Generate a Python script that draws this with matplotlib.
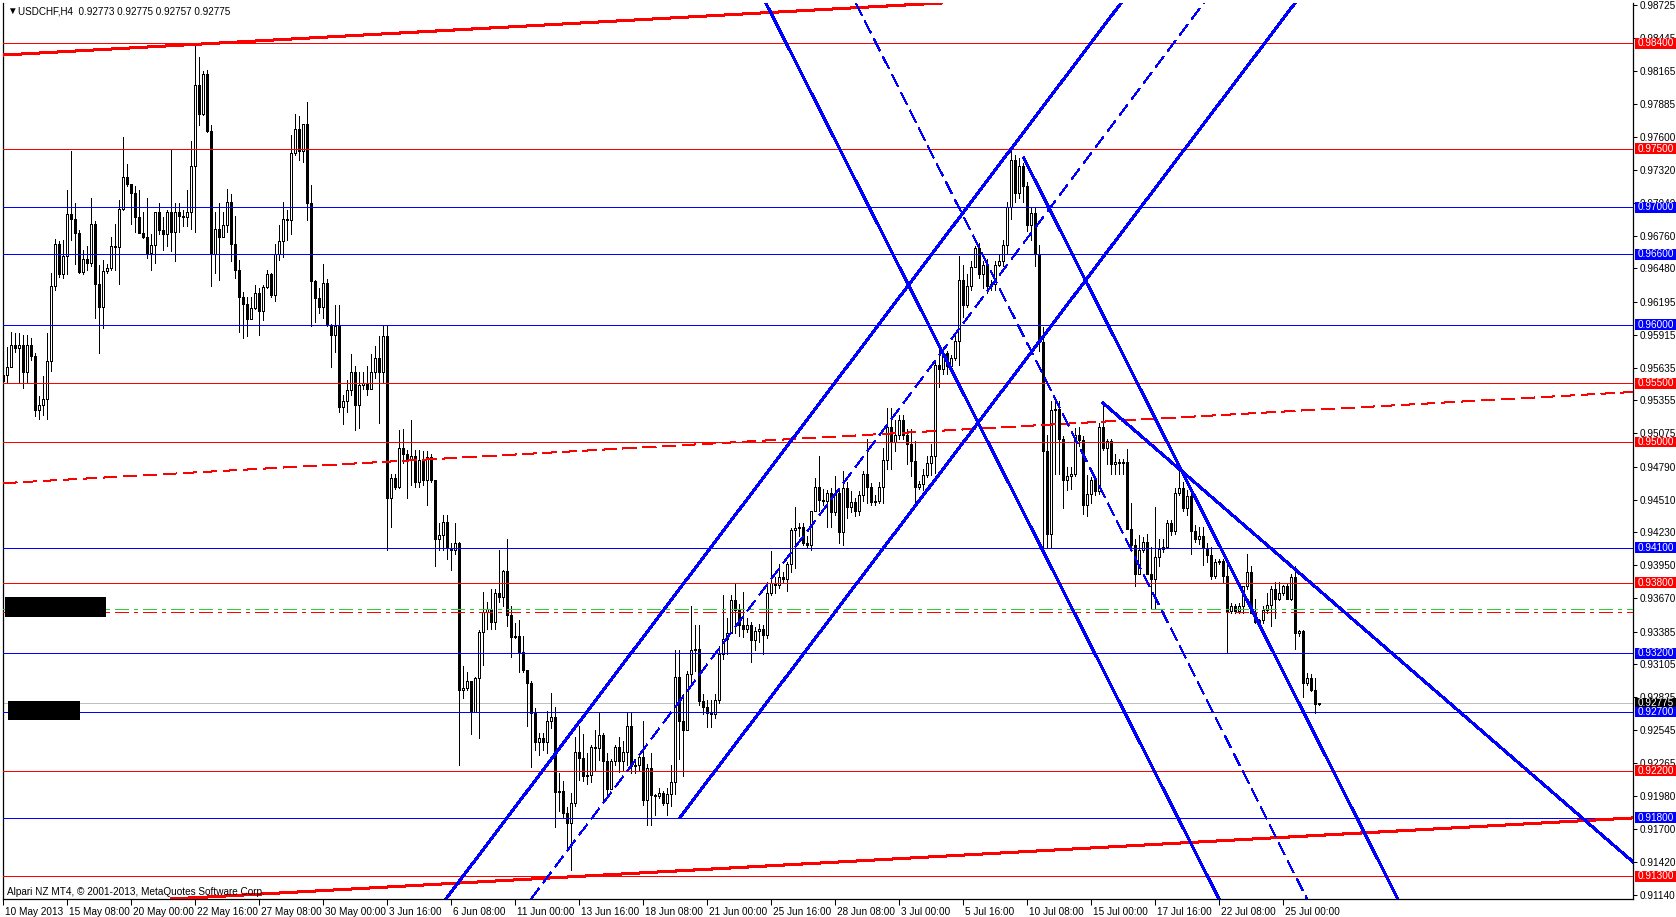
import numpy as np
import matplotlib.pyplot as plt
import matplotlib.transforms as mtransforms
from matplotlib.patches import Rectangle

plt.rcParams['font.family'] = ['Liberation Sans', 'DejaVu Sans']

# USDCHF H4 candles (open = previous close)
first_open = 0.9552
closes = [
    0.9557, 0.9564, 0.9583, 0.9580, 0.9583, 0.9560, 0.9583, 0.9573, 0.9527, 0.9532,
    0.9537, 0.9569, 0.9633, 0.9669, 0.9643, 0.9659, 0.9694, 0.9690, 0.9678, 0.9645,
    0.9656, 0.9653, 0.9686, 0.9635, 0.9615, 0.9646, 0.9648, 0.9667, 0.9666, 0.9699,
    0.9726, 0.9720, 0.9712, 0.9692, 0.9678, 0.9675, 0.9661, 0.9668, 0.9696, 0.9681,
    0.9677, 0.9696, 0.9679, 0.9696, 0.9693, 0.9692, 0.9696, 0.9735, 0.9804, 0.9780,
    0.9814, 0.9765, 0.9660, 0.9682, 0.9675, 0.9685, 0.9705, 0.9669, 0.9647, 0.9624,
    0.9618, 0.9605, 0.9614, 0.9627, 0.9612, 0.9632, 0.9643, 0.9625, 0.9660, 0.9671,
    0.9690, 0.9689, 0.9746, 0.9767, 0.9748, 0.9771, 0.9704, 0.9637, 0.9623, 0.9615,
    0.9636, 0.9600, 0.9591, 0.9599, 0.9530, 0.9535, 0.9544, 0.9560, 0.9532, 0.9549,
    0.9550, 0.9545, 0.9560, 0.9572, 0.9560, 0.9590, 0.9452, 0.9469, 0.9462, 0.9495,
    0.9490, 0.9485, 0.9488, 0.9466, 0.9485, 0.9468, 0.9487, 0.9468, 0.9417, 0.9421,
    0.9432, 0.9410, 0.9408, 0.9414, 0.9289, 0.9290, 0.9296, 0.9270, 0.9299, 0.9338,
    0.9355, 0.9358, 0.9347, 0.9371, 0.9368, 0.9390, 0.9353, 0.9334, 0.9335, 0.9321,
    0.9306, 0.9295, 0.9269, 0.9244, 0.9248, 0.9244, 0.9262, 0.9266, 0.9202, 0.9203,
    0.9184, 0.9175, 0.9192, 0.9236, 0.9231, 0.9215, 0.9216, 0.9240, 0.9239, 0.9250,
    0.9228, 0.9204, 0.9228, 0.9240, 0.9228, 0.9236, 0.9258, 0.9224, 0.9225, 0.9232,
    0.9195, 0.9222, 0.9199, 0.9198, 0.9201, 0.9192, 0.9200, 0.9210, 0.9300, 0.9262,
    0.9255, 0.9302, 0.9323, 0.9324, 0.9279, 0.9274, 0.9269, 0.9268, 0.9280, 0.9319,
    0.9332, 0.9337, 0.9365, 0.9357, 0.9344, 0.9341, 0.9344, 0.9331, 0.9339, 0.9341,
    0.9336, 0.9371, 0.9380, 0.9378, 0.9385, 0.9383, 0.9396, 0.9425, 0.9427, 0.9428,
    0.9414, 0.9412, 0.9441, 0.9462, 0.9451, 0.9450, 0.9457, 0.9440, 0.9457, 0.9423,
    0.9461, 0.9445, 0.9449, 0.9441, 0.9455, 0.9473, 0.9462, 0.9449, 0.9450, 0.9462,
    0.9485, 0.9513, 0.9500, 0.9506, 0.9519, 0.9506, 0.9498, 0.9484, 0.9462, 0.9464,
    0.9472, 0.9482, 0.9488, 0.9566, 0.9562, 0.9576, 0.9565, 0.9572, 0.9586, 0.9638,
    0.9617, 0.9633, 0.9649, 0.9665, 0.9643, 0.9651, 0.9633, 0.9635, 0.9651, 0.9654,
    0.9668, 0.9700, 0.9740, 0.9712, 0.9735, 0.9718, 0.9685, 0.9695, 0.9660, 0.9585,
    0.9492, 0.9422, 0.9527, 0.9528, 0.9503, 0.9468, 0.9471, 0.9473, 0.9506, 0.9502,
    0.9446, 0.9456, 0.9468, 0.9458, 0.9513, 0.9495, 0.9501, 0.9481, 0.9483, 0.9482,
    0.9483, 0.9426, 0.9412, 0.9388, 0.9408, 0.9415, 0.9388, 0.9383, 0.9402, 0.9409,
    0.9411, 0.9431, 0.9424, 0.9457, 0.9461, 0.9444, 0.9454, 0.9424, 0.9417, 0.9420,
    0.9410, 0.9404, 0.9386, 0.9398, 0.9399, 0.9386, 0.9356, 0.9360, 0.9356, 0.9360,
    0.9377, 0.9389, 0.9354, 0.9347, 0.9348, 0.9357, 0.9361, 0.9375, 0.9366, 0.9371,
    0.9377, 0.9366, 0.9385, 0.9337, 0.9339, 0.9295, 0.9299, 0.9289, 0.9277, 0.92775,
]
highs = [
    0.9627, 0.9581, 0.9594, 0.9593, 0.9593, 0.9591, 0.9591, 0.9589, 0.9576, 0.9539,
    0.9556, 0.9593, 0.9644, 0.9673, 0.9671, 0.9672, 0.9715, 0.9748, 0.9704, 0.9681,
    0.9664, 0.9667, 0.9708, 0.9688, 0.9651, 0.9655, 0.9652, 0.9675, 0.9686, 0.9706,
    0.9760, 0.9737, 0.9718, 0.9718, 0.9715, 0.9696, 0.9708, 0.9677, 0.9696, 0.9704,
    0.9692, 0.9698, 0.9749, 0.9704, 0.9704, 0.9698, 0.9715, 0.9757, 0.9838, 0.9828,
    0.9816, 0.9817, 0.9770, 0.9696, 0.9704, 0.9696, 0.9716, 0.9711, 0.9693, 0.9655,
    0.9628, 0.9624, 0.9624, 0.9634, 0.9631, 0.9634, 0.9647, 0.9644, 0.9669, 0.9685,
    0.9705, 0.9698, 0.9762, 0.9780, 0.9778, 0.9771, 0.9790, 0.9719, 0.9638, 0.9631,
    0.9652, 0.9639, 0.9601, 0.9617, 0.9617, 0.9540, 0.9553, 0.9575, 0.9565, 0.9560,
    0.9560, 0.9565, 0.9575, 0.9582, 0.9590, 0.9600, 0.9600, 0.9473, 0.9473, 0.9510,
    0.9511, 0.9493, 0.9519, 0.9493, 0.9493, 0.9492, 0.9492, 0.9490, 0.9468, 0.9431,
    0.9438, 0.9438, 0.9414, 0.9431, 0.9415, 0.9309, 0.9304, 0.9296, 0.9300, 0.9340,
    0.9372, 0.9364, 0.9375, 0.9375, 0.9408, 0.9391, 0.9417, 0.9360, 0.9346, 0.9348,
    0.9335, 0.9306, 0.9296, 0.9273, 0.9252, 0.9252, 0.9271, 0.9286, 0.9274, 0.9218,
    0.9211, 0.9189, 0.9201, 0.9249, 0.9258, 0.9251, 0.9235, 0.9242, 0.9255, 0.9269,
    0.9252, 0.9235, 0.9230, 0.9242, 0.9249, 0.9245, 0.9269, 0.9269, 0.9230, 0.9235,
    0.9262, 0.9226, 0.9235, 0.9200, 0.9205, 0.9203, 0.9205, 0.9225, 0.9323, 0.9323,
    0.9285, 0.9305, 0.9360, 0.9344, 0.9344, 0.9285, 0.9280, 0.9280, 0.9285, 0.9326,
    0.9370, 0.9350, 0.9370, 0.9380, 0.9362, 0.9372, 0.9350, 0.9347, 0.9342, 0.9345,
    0.9344, 0.9381, 0.9407, 0.9385, 0.9396, 0.9389, 0.9398, 0.9427, 0.9445, 0.9431,
    0.9431, 0.9420, 0.9441, 0.9469, 0.9488, 0.9460, 0.9459, 0.9461, 0.9471, 0.9461,
    0.9475, 0.9466, 0.9458, 0.9452, 0.9458, 0.9475, 0.9503, 0.9465, 0.9455, 0.9466,
    0.9495, 0.9529, 0.9529, 0.9519, 0.9523, 0.9523, 0.9511, 0.9511, 0.9501, 0.9467,
    0.9477, 0.9488, 0.9498, 0.9570, 0.9583, 0.9581, 0.9578, 0.9574, 0.9592, 0.9659,
    0.9651, 0.9643, 0.9654, 0.9667, 0.9670, 0.9654, 0.9656, 0.9638, 0.9654, 0.9660,
    0.9672, 0.9705, 0.9749, 0.9745, 0.9742, 0.9738, 0.9722, 0.9700, 0.9700, 0.9668,
    0.9598, 0.9506, 0.9535, 0.9534, 0.9535, 0.9505, 0.9479, 0.9479, 0.9512, 0.9513,
    0.9505, 0.9472, 0.9470, 0.9471, 0.9516, 0.9533, 0.9503, 0.9503, 0.9490, 0.9486,
    0.9486, 0.9494, 0.9448, 0.9417, 0.9421, 0.9419, 0.9422, 0.9411, 0.9445, 0.9417,
    0.9417, 0.9434, 0.9434, 0.9461, 0.9477, 0.9466, 0.9459, 0.9458, 0.9429, 0.9428,
    0.9428, 0.9414, 0.9411, 0.9400, 0.9400, 0.9400, 0.9400, 0.9363, 0.9362, 0.9363,
    0.9377, 0.9405, 0.9394, 0.9366, 0.9349, 0.9360, 0.9371, 0.9377, 0.9381, 0.9381,
    0.9378, 0.9380, 0.9388, 0.9394, 0.9340, 0.9340, 0.9303, 0.9302, 0.9299, 0.92775,
]
lows = [
    0.9542, 0.9550, 0.9574, 0.9577, 0.9550, 0.9546, 0.9550, 0.9570, 0.9522, 0.9520,
    0.9523, 0.9520, 0.9561, 0.9630, 0.9641, 0.9640, 0.9643, 0.9672, 0.9652, 0.9644,
    0.9643, 0.9647, 0.9650, 0.9606, 0.9576, 0.9597, 0.9644, 0.9647, 0.9647, 0.9635,
    0.9698, 0.9718, 0.9686, 0.9679, 0.9678, 0.9674, 0.9657, 0.9647, 0.9653, 0.9677,
    0.9664, 0.9667, 0.9663, 0.9654, 0.9679, 0.9684, 0.9684, 0.9682, 0.9679, 0.9770,
    0.9779, 0.9764, 0.9633, 0.9644, 0.9638, 0.9675, 0.9679, 0.9654, 0.9640, 0.9594,
    0.9589, 0.9590, 0.9607, 0.9613, 0.9591, 0.9604, 0.9631, 0.9624, 0.9620, 0.9655,
    0.9658, 0.9672, 0.9677, 0.9745, 0.9740, 0.9739, 0.9689, 0.9599, 0.9602, 0.9610,
    0.9606, 0.9599, 0.9564, 0.9577, 0.9526, 0.9515, 0.9526, 0.9540, 0.9510, 0.9512,
    0.9545, 0.9540, 0.9548, 0.9555, 0.9516, 0.9550, 0.9408, 0.9428, 0.9460, 0.9461,
    0.9482, 0.9452, 0.9463, 0.9462, 0.9462, 0.9463, 0.9446, 0.9466, 0.9394, 0.9408,
    0.9408, 0.9400, 0.9391, 0.9405, 0.9225, 0.9282, 0.9289, 0.9251, 0.9270, 0.9248,
    0.9310, 0.9341, 0.9341, 0.9341, 0.9364, 0.9360, 0.9343, 0.9317, 0.9333, 0.9304,
    0.9304, 0.9258, 0.9223, 0.9238, 0.9233, 0.9238, 0.9235, 0.9256, 0.9172, 0.9186,
    0.9180, 0.9155, 0.9135, 0.9190, 0.9212, 0.9211, 0.9209, 0.9210, 0.9220, 0.9229,
    0.9195, 0.9198, 0.9205, 0.9225, 0.9219, 0.9220, 0.9225, 0.9218, 0.9218, 0.9220,
    0.9191, 0.9174, 0.9174, 0.9182, 0.9197, 0.9191, 0.9182, 0.9190, 0.9200, 0.9230,
    0.9215, 0.9262, 0.9295, 0.9305, 0.9276, 0.9268, 0.9257, 0.9257, 0.9265, 0.9278,
    0.9315, 0.9319, 0.9349, 0.9337, 0.9335, 0.9334, 0.9338, 0.9313, 0.9323, 0.9330,
    0.9319, 0.9333, 0.9370, 0.9371, 0.9376, 0.9381, 0.9373, 0.9389, 0.9393, 0.9420,
    0.9412, 0.9411, 0.9408, 0.9441, 0.9441, 0.9446, 0.9428, 0.9428, 0.9438, 0.9414,
    0.9412, 0.9435, 0.9440, 0.9437, 0.9438, 0.9450, 0.9448, 0.9446, 0.9446, 0.9448,
    0.9448, 0.9477, 0.9477, 0.9492, 0.9503, 0.9503, 0.9481, 0.9471, 0.9448, 0.9460,
    0.9459, 0.9470, 0.9472, 0.9474, 0.9547, 0.9558, 0.9558, 0.9566, 0.9570, 0.9566,
    0.9607, 0.9615, 0.9630, 0.9649, 0.9640, 0.9631, 0.9627, 0.9630, 0.9630, 0.9650,
    0.9650, 0.9660, 0.9690, 0.9705, 0.9708, 0.9705, 0.9680, 0.9672, 0.9650, 0.9578,
    0.9405, 0.9411, 0.9411, 0.9473, 0.9473, 0.9444, 0.9459, 0.9460, 0.9471, 0.9497,
    0.9439, 0.9437, 0.9448, 0.9455, 0.9456, 0.9493, 0.9481, 0.9473, 0.9473, 0.9473,
    0.9473, 0.9426, 0.9410, 0.9377, 0.9388, 0.9406, 0.9388, 0.9358, 0.9358, 0.9394,
    0.9406, 0.9410, 0.9421, 0.9422, 0.9455, 0.9441, 0.9438, 0.9405, 0.9415, 0.9413,
    0.9395, 0.9398, 0.9383, 0.9384, 0.9396, 0.9380, 0.9320, 0.9354, 0.9354, 0.9354,
    0.9354, 0.9375, 0.9354, 0.9346, 0.9344, 0.9346, 0.9354, 0.9343, 0.9350, 0.9365,
    0.9370, 0.9366, 0.9365, 0.9324, 0.9335, 0.9283, 0.9293, 0.9288, 0.9269, 0.92757,
]

date_labels = ['10 May 2013', '15 May 08:00', '20 May 00:00', '22 May 16:00', '27 May 08:00',
               '30 May 00:00', '3 Jun 16:00', '6 Jun 08:00', '11 Jun 00:00', '13 Jun 16:00',
               '18 Jun 08:00', '21 Jun 00:00', '25 Jun 16:00', '28 Jun 08:00', '3 Jul 00:00',
               '5 Jul 16:00', '10 Jul 08:00', '15 Jul 00:00', '17 Jul 16:00', '22 Jul 08:00',
               '25 Jul 00:00']
date_bars = [16 * i for i in range(len(date_labels))]

price_ticks = [0.98725, 0.98445, 0.98165, 0.97885, 0.97600, 0.97320, 0.97040, 0.96760,
               0.96480, 0.96195, 0.95915, 0.95635, 0.95355, 0.95075, 0.94790, 0.94510,
               0.94230, 0.93950, 0.93670, 0.93385, 0.93105, 0.92825, 0.92545, 0.92265,
               0.91980, 0.91700, 0.91420, 0.91140]

red_levels = [0.9840, 0.9750, 0.9550, 0.9500, 0.9380, 0.9220, 0.9130]
blue_levels = [0.9700, 0.9660, 0.9600, 0.9410, 0.9320, 0.9270, 0.9180]
bid = 0.92775
green_dashdot = 0.93578
red_dashdot = 0.93552

# trend lines as (bar0, price0, bar1, price1)
red_trends = [(0, 0.98299, 234.4, 0.98742), (41.9, 0.91106, 407.4, 0.91797)]
red_dashed_trend = (0, 0.94650, 407.4, 0.95427)
blue_trends = [(110.6, 0.91106, 279.4, 0.98742),
               (169.1, 0.91800, 322.9, 0.98742),
               (190.6, 0.98742, 303.9, 0.91106),
               (255.1, 0.97420, 348.6, 0.91106),
               (274.9, 0.95333, 407.4, 0.91422)]
blue_dashed_trends = [(131.9, 0.91106, 300.1, 0.98742),
                      (213.1, 0.98742, 325.9, 0.91106)]

RED = '#ff0000'
BLUE = '#0000ff'
THIN = 0.68
THICK = 1.45

W, H = 1676, 917
fig = plt.figure(figsize=(W / 100, H / 100), dpi=100)
ax = fig.add_axes([3 / W, 18 / H, 1630 / W, 896 / H])
ax.set_xlim(-0.125, 407.4)
ax.set_ylim(0.91106, 0.98742)

# candles
c = np.array(closes)
o = np.array([first_open] + closes[:-1])
hi = np.maximum(np.array(highs), np.maximum(o, c))
lo = np.minimum(np.array(lows), np.minimum(o, c))
x = np.arange(len(c))
ax.vlines(x, lo, hi, color='black', lw=THIN, antialiased=False, zorder=3)
up = c >= o
ax.bar(x[up], (c - o)[up], bottom=o[up], width=0.5, facecolor='white',
       edgecolor='black', lw=THIN, antialiased=False, zorder=4)
ax.bar(x[~up], (c - o)[~up], bottom=o[~up], width=0.5, facecolor='black',
       edgecolor='black', lw=THIN, antialiased=False, zorder=4)

# horizontal levels
for lvl in red_levels:
    ax.axhline(lvl, color=RED, lw=THIN, antialiased=False, zorder=5)
for lvl in blue_levels:
    ax.axhline(lvl, color=BLUE, lw=THIN, antialiased=False, zorder=5)
ax.axhline(bid, color='#c0c0c0', lw=THIN, antialiased=False, zorder=2)
ax.axhline(green_dashdot, color='#32cd32', lw=THIN, dashes=[14, 6, 4, 6], antialiased=False, zorder=5)
ax.axhline(red_dashdot, color=RED, lw=THIN, dashes=[14, 6, 4, 6], antialiased=False, zorder=5)

# trend lines
for x0, p0, x1, p1 in red_trends:
    ax.plot([x0, x1], [p0, p1], color=RED, lw=THICK, antialiased=False, zorder=6)
x0, p0, x1, p1 = red_dashed_trend
ax.plot([x0, x1], [p0, p1], color=RED, lw=THIN, dashes=[14, 7], antialiased=False, zorder=6)
for x0, p0, x1, p1 in blue_trends:
    ax.plot([x0, x1], [p0, p1], color=BLUE, lw=THICK, antialiased=False, zorder=6)
for x0, p0, x1, p1 in blue_dashed_trends:
    ax.plot([x0, x1], [p0, p1], color=BLUE, lw=THIN, dashes=[14, 7], antialiased=False, zorder=6)

# axes styling
ax.spines['top'].set_visible(False)
for s in ['left', 'right', 'bottom']:
    ax.spines[s].set_linewidth(0.9)
ax.yaxis.tick_right()
ax.set_yticks(price_ticks)
ax.set_yticklabels([f'{p:.5f}' for p in price_ticks])
ax.tick_params(axis='y', direction='out', length=3, width=0.75, pad=1.5, labelsize=7.2)
ax.set_xticks(date_bars)
ax.set_xticklabels(date_labels, ha='left')
ax.tick_params(axis='x', direction='out', length=4, width=0.75, pad=2, labelsize=7.2)
shift = mtransforms.ScaledTranslation(2 / 100, 0, fig.dpi_scale_trans)
for lab in ax.get_xticklabels():
    lab.set_transform(lab.get_transform() + shift)

# price boxes on the right axis, drawn over the tick labels
trans = mtransforms.blended_transform_factory(ax.transAxes, ax.transData)
per_px = (0.98742 - 0.91106) / 896
box_h = 10.8 * per_px
box_x0 = (1635 - 3) / 1630
box_w = (1676 - 1635) / 1630
boxes = [(bid, 'black')] + [(p, RED) for p in red_levels] + [(p, BLUE) for p in blue_levels]
for i, (p, col) in enumerate(boxes):
    ax.add_patch(Rectangle((box_x0, p - box_h / 2), box_w, box_h, transform=trans,
                           facecolor=col, edgecolor='none', clip_on=False, zorder=20 + 2 * i))
    ax.text(box_x0 + 2.5 / 1630, p, f'{p:.5f}', transform=trans, color='white', fontsize=7.2,
            va='center', ha='left', clip_on=False, zorder=21 + 2 * i)

# header and footer text
fig.text(7 / W, 1 - 11 / H, '\u25bc', fontsize=7, va='center', ha='left')
fig.text(18 / W, 1 - 11 / H, 'USDCHF,H4  0.92773 0.92775 0.92757 0.92775',
         fontsize=7.1, va='center', ha='left')
fig.text(7 / W, 1 - 892 / H, 'Alpari NZ MT4, \u00a9 2001-2013, MetaQuotes Software Corp.',
         fontsize=7.2, va='center', ha='left')

# redacted label boxes
fig.add_artist(Rectangle((5 / W, 1 - 617 / H), 101 / W, 20 / H, transform=fig.transFigure,
                         facecolor='black', edgecolor='none', zorder=30))
fig.add_artist(Rectangle((8 / W, 1 - 720 / H), 72 / W, 19 / H, transform=fig.transFigure,
                         facecolor='black', edgecolor='none', zorder=30))

fig.savefig('out.png', dpi=100)
